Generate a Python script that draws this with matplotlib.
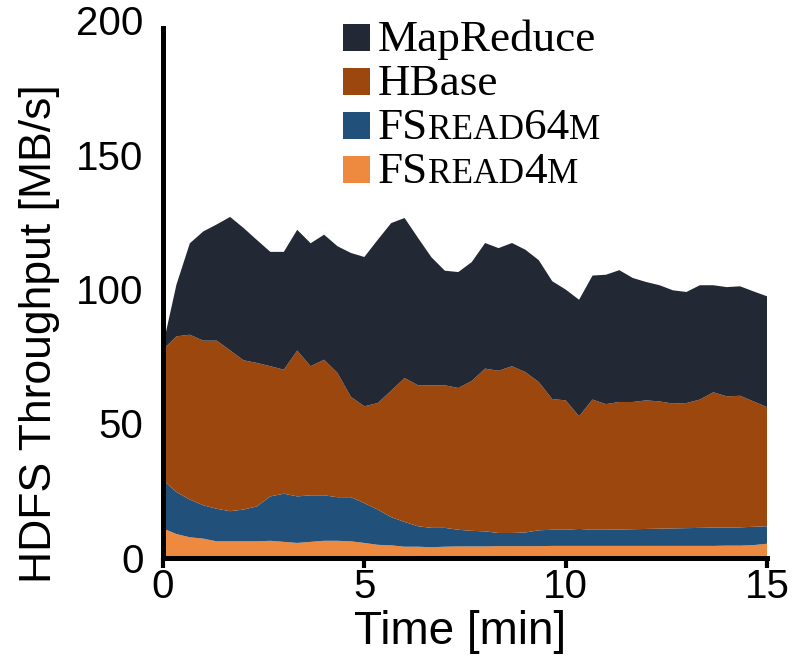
import matplotlib
matplotlib.use("Agg")
import matplotlib.pyplot as plt
import numpy as np
from matplotlib.patches import Rectangle
from matplotlib.ticker import FixedLocator

# samples every 20 s over 15 minutes
time_min = np.arange(46) / 3.0

fsread4m = [11.0, 8.9, 7.7, 7.2, 6.2, 6.2, 6.2, 6.2, 6.4, 6.0,
            5.6, 6.0, 6.4, 6.4, 6.2, 5.6, 4.9, 4.7, 4.2, 4.2,
            4.0, 4.2, 4.3, 4.3, 4.3, 4.4, 4.4, 4.4, 4.4, 4.5,
            4.5, 4.5, 4.5, 4.5, 4.5, 4.5, 4.5, 4.5, 4.5, 4.5,
            4.5, 4.5, 4.6, 4.6, 4.8, 5.3]
fsread64m = [18.0, 15.6, 14.0, 12.4, 12.1, 11.2, 11.8, 13.0, 16.5, 17.9,
             17.3, 17.3, 16.9, 16.2, 16.4, 14.8, 13.1, 10.5, 9.2, 7.6,
             7.2, 7.0, 6.2, 5.8, 5.6, 4.9, 4.9, 5.1, 5.9, 6.0,
             6.0, 6.3, 6.0, 6.0, 6.1, 6.2, 6.3, 6.4, 6.5, 6.6,
             6.7, 6.8, 6.7, 6.8, 6.8, 6.5]
hbase = [48.5, 57.9, 61.3, 61.2, 62.5, 59.8, 55.5, 53.3, 48.4, 46.1,
         54.2, 48.0, 50.4, 46.2, 37.3, 36.0, 39.6, 47.0, 53.5, 52.4,
         53.0, 53.0, 52.7, 55.7, 60.5, 60.3, 62.0, 59.6, 55.1, 48.6,
         48.1, 41.9, 48.4, 46.7, 47.4, 47.3, 47.8, 47.3, 46.4, 46.5,
         47.7, 50.3, 48.8, 48.9, 46.6, 44.3]
mapreduce = [1.5, 19.2, 34.0, 40.6, 43.2, 49.6, 49.2, 45.7, 42.5, 43.8,
             44.9, 45.7, 46.5, 47.1, 53.5, 55.5, 60.7, 62.3, 59.5, 54.8,
             47.6, 42.6, 43.1, 44.2, 46.7, 45.6, 45.8, 45.5, 45.3, 43.8,
             41.2, 43.3, 46.1, 48.1, 49.0, 46.1, 44.0, 43.2, 42.1, 41.3,
             42.5, 39.8, 40.6, 40.7, 40.9, 41.2]

colors = ["#ee8a40", "#21507a", "#9b470e", "#222935"]
yticks = [0, 50, 100, 150, 200]
xticks = [0, 5, 10, 15]

W, H = 799, 661
fig = plt.figure(figsize=(W / 100, H / 100), dpi=100)
ax = fig.add_axes([163 / W, 1 - 558 / H, 604 / W, 538 / H])

ax.stackplot(time_min, fsread4m, fsread64m, hbase, mapreduce,
             colors=colors, linewidth=0)

ax.set_xlim(0, 15)
ax.set_ylim(0, 200)
for s in ("top", "right"):
    ax.spines[s].set_visible(False)
for s in ("left", "bottom"):
    ax.spines[s].set_linewidth(3.6)
ax.spines["left"].set_bounds(0, 197)

ax.set_xticks(xticks)
ax.set_yticks(yticks)
ax.yaxis.set_minor_locator(FixedLocator([0]))
ax.tick_params(axis="x", direction="out", length=7, width=3.0, pad=0,
               labelsize=29)
ax.tick_params(axis="y", which="major", length=0, pad=14, labelsize=29)
ax.tick_params(axis="y", which="minor", direction="out", length=9.5,
               width=3.6)
for lab in ax.get_xticklabels() + ax.get_yticklabels():
    lab.set_fontfamily("Liberation Sans")

fig.text(40 / W, 1 - 334 / H, "HDFS Throughput [MB/s]", rotation=90,
         ha="center", va="center", fontsize=32, family="Liberation Sans")
fig.text(460 / W, 1 - 632 / H, "Time [min]", ha="center", va="center",
         fontsize=33, family="Liberation Sans")

# legend drawn by hand so the small caps can be mixed in
legend_rows = [
    ("#222935", [("MapReduce", 1.0)]),
    ("#9b470e", [("HBase", 1.0)]),
    ("#21507a", [("FS", 1.0), ("READ", 0.78), ("64", 1.0), ("M", 0.78)]),
    ("#ee8a40", [("FS", 1.0), ("READ", 0.78), ("4", 1.0), ("M", 0.78)]),
]
baselines = [51, 95, 139, 183]
leg_size = 32.5
renderer = fig.canvas.get_renderer()
for (col, parts), base in zip(legend_rows, baselines):
    fig.add_artist(Rectangle((343 / W, 1 - base / H), 27 / W, 27 / H,
                             transform=fig.transFigure, facecolor=col,
                             edgecolor="none"))
    x = 378
    for txt, scale in parts:
        t = fig.text(x / W, 1 - base / H, txt, ha="left", va="baseline",
                     fontsize=leg_size * scale, family="Liberation Serif")
        x += t.get_window_extent(renderer).width

fig.savefig("out.png", dpi=100)
